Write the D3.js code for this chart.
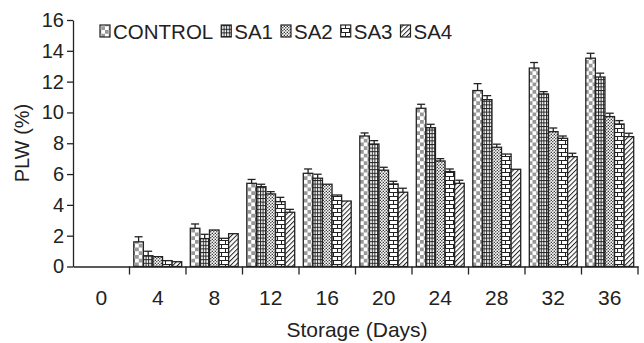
<!DOCTYPE html>
<html>
<head>
<meta charset="utf-8">
<script src="https://cdn.jsdelivr.net/npm/d3@7"></script>
<style>
  body { margin: 0; background: #fff; }
  svg text { font-family: "Liberation Sans", Arial, sans-serif; fill: #222; }
</style>
</head>
<body>
<svg id="chart" width="644" height="343"></svg>
<script>
// data
const days = [0, 4, 8, 12, 16, 20, 24, 28, 32, 36];
const series = ["CONTROL", "SA1", "SA2", "SA3", "SA4"];
const control    = [0, 1.6, 2.48, 5.4, 6.05, 8.47, 10.27, 11.42, 12.88, 13.52];
const controlErr = [0, 0.33, 0.28, 0.25, 0.28, 0.2, 0.26, 0.45, 0.36, 0.32];
const sa1    = [0, 0.7, 1.81, 5.18, 5.73, 7.95, 9.01, 10.83, 11.2, 12.3];
const sa1Err = [0, 0.29, 0.28, 0.16, 0.26, 0.22, 0.22, 0.26, 0.15, 0.25];
const sa2    = [0, 0.64, 2.37, 4.71, 5.34, 6.25, 6.85, 7.74, 8.75, 9.73];
const sa2Err = [0, 0, 0, 0.15, 0, 0.19, 0.15, 0.2, 0.24, 0.22];
const sa3    = [0, 0.38, 1.83, 4.21, 4.64, 5.36, 6.16, 7.3, 8.32, 9.25];
const sa3Err = [0, 0, 0, 0.28, 0, 0.17, 0.17, 0, 0.15, 0.22];
const sa4    = [0, 0.31, 2.13, 3.52, 4.25, 4.82, 5.4, 6.31, 7.13, 8.43];
const sa4Err = [0, 0, 0, 0.19, 0, 0.26, 0.2, 0, 0.22, 0.22];
const yTicks = [0, 2, 4, 6, 8, 10, 12, 14, 16];

const values = [control, sa1, sa2, sa3, sa4];
const errors = [controlErr, sa1Err, sa2Err, sa3Err, sa4Err];

const svg = d3.select("#chart");
const plotLeft = 73, plotRight = 638, plotTop = 20, plotBottom = 266.5;

const x = d3.scaleBand().domain(days).range([plotLeft, plotRight]).padding(0);
const xs = d3.scaleBand().domain(series)
  .range([4.3, x.bandwidth() - 4.3]).padding(0);
const y = d3.scaleLinear().domain([0, 16]).range([plotBottom, plotTop]);

// fill patterns
const defs = svg.append("defs");
const patIds = ["pCtrl", "pSa1", "pSa2", "pSa3", "pSa4"];

let p = defs.append("pattern").attr("id", "pCtrl").attr("patternUnits", "userSpaceOnUse")
  .attr("width", 7.5).attr("height", 7.5);
p.append("rect").attr("width", 7.5).attr("height", 7.5).attr("fill", "#fff");
p.append("rect").attr("width", 3.75).attr("height", 3.75).attr("fill", "#999");
p.append("rect").attr("x", 3.75).attr("y", 3.75).attr("width", 3.75).attr("height", 3.75).attr("fill", "#999");

p = defs.append("pattern").attr("id", "pSa1").attr("patternUnits", "userSpaceOnUse")
  .attr("width", 2.6).attr("height", 3.6);
p.append("rect").attr("width", 2.6).attr("height", 3.6).attr("fill", "#fff");
p.append("rect").attr("width", 1).attr("height", 3.6).attr("fill", "#222");
p.append("rect").attr("width", 2.6).attr("height", 1).attr("fill", "#222");

p = defs.append("pattern").attr("id", "pSa2").attr("patternUnits", "userSpaceOnUse")
  .attr("width", 3).attr("height", 3);
p.append("rect").attr("width", 3).attr("height", 3).attr("fill", "#fff");
p.append("circle").attr("cx", 0.8).attr("cy", 0.8).attr("r", 0.75).attr("fill", "#333");
p.append("circle").attr("cx", 2.3).attr("cy", 2.3).attr("r", 0.75).attr("fill", "#333");

p = defs.append("pattern").attr("id", "pSa3").attr("patternUnits", "userSpaceOnUse")
  .attr("width", 8).attr("height", 8);
p.append("rect").attr("width", 8).attr("height", 8).attr("fill", "#fff");
p.append("rect").attr("y", 0).attr("width", 8).attr("height", 1).attr("fill", "#222");
p.append("rect").attr("y", 4).attr("width", 8).attr("height", 1).attr("fill", "#222");
p.append("rect").attr("x", 1).attr("y", 0).attr("width", 1).attr("height", 4).attr("fill", "#222");
p.append("rect").attr("x", 5).attr("y", 4).attr("width", 1).attr("height", 4).attr("fill", "#222");

p = defs.append("pattern").attr("id", "pSa4").attr("patternUnits", "userSpaceOnUse")
  .attr("width", 3.4).attr("height", 3.4).attr("patternTransform", "rotate(45)");
p.append("rect").attr("width", 3.4).attr("height", 3.4).attr("fill", "#fff");
p.append("rect").attr("width", 1).attr("height", 3.4).attr("fill", "#222");

// bars
const rows = [];
days.forEach((d, i) => {
  series.forEach((s, j) => {
    rows.push({ day: d, s: s, j: j, v: values[j][i], e: errors[j][i] });
  });
});

const bars = rows.filter(r => r.v > 0);

svg.append("g").selectAll("rect")
  .data(bars)
  .enter().append("rect")
  .attr("x", r => x(r.day) + xs(r.s))
  .attr("y", r => y(r.v))
  .attr("width", xs.bandwidth())
  .attr("height", r => y(0) - y(r.v))
  .attr("fill", r => "url(#" + patIds[r.j] + ")")
  .attr("stroke", "#222")
  .attr("stroke-width", 1.3);

// error bars (upper only)
const eg = svg.append("g").attr("stroke", "#222").attr("stroke-width", 1.3);
bars.filter(r => r.e > 0).forEach(r => {
  const cx = x(r.day) + xs(r.s) + xs.bandwidth() / 2;
  eg.append("line").attr("x1", cx).attr("x2", cx).attr("y1", y(r.v)).attr("y2", y(r.v + r.e));
  eg.append("line").attr("x1", cx - 4).attr("x2", cx + 4).attr("y1", y(r.v + r.e)).attr("y2", y(r.v + r.e));
});

// y axis
const yAxis = svg.append("g")
  .attr("transform", `translate(${plotLeft},0)`)
  .call(d3.axisLeft(y).tickValues(yTicks).tickSize(6).tickSizeOuter(0).tickPadding(3));
yAxis.select(".domain").attr("stroke", "#222").attr("stroke-width", 1.3);
yAxis.selectAll(".tick line").attr("stroke", "#222").attr("stroke-width", 1.3);
yAxis.selectAll("text").style("font-size", "20px").attr("fill", "#222");

// x axis
const xAxis = svg.append("g")
  .attr("transform", `translate(0,${plotBottom})`)
  .call(d3.axisBottom(x).tickSize(0).tickPadding(24));
xAxis.select(".domain").attr("stroke", "#222").attr("stroke-width", 1.3);
xAxis.selectAll("text").style("font-size", "21px").attr("fill", "#222");

svg.append("g").selectAll("line")
  .data(days)
  .enter().append("line")
  .attr("x1", d => x(d) + x.bandwidth())
  .attr("x2", d => x(d) + x.bandwidth())
  .attr("y1", plotBottom)
  .attr("y2", plotBottom + 8)
  .attr("stroke", "#222")
  .attr("stroke-width", 1.3);

// axis titles
svg.append("text")
  .attr("x", 357)
  .attr("y", 337)
  .attr("text-anchor", "middle")
  .style("font-size", "21px")
  .text("Storage (Days)");

svg.append("text")
  .attr("transform", "translate(29,143) rotate(-90)")
  .attr("text-anchor", "middle")
  .style("font-size", "20px")
  .text("PLW (%)");

// legend
const legend = svg.append("g");
let lx = 100;
series.forEach((s, j) => {
  legend.append("rect")
    .attr("x", lx).attr("y", 25)
    .attr("width", 10).attr("height", 12)
    .attr("fill", "url(#" + patIds[j] + ")")
    .attr("stroke", "#222").attr("stroke-width", 1.2);
  const t = legend.append("text")
    .attr("x", lx + 13).attr("y", 38.5)
    .style("font-size", "20.5px")
    .text(s);
  lx += 13 + t.node().getComputedTextLength() + 8;
});
</script>
</body>
</html>
